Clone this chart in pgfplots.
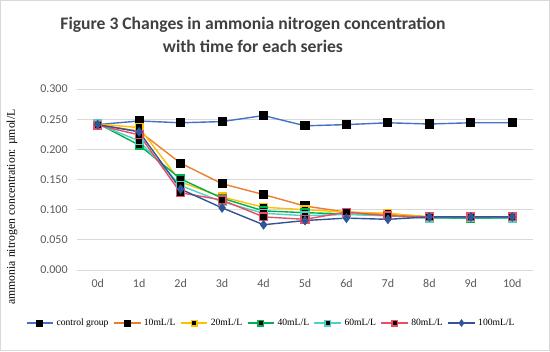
\documentclass[border=0pt]{standalone}
\usepackage{pgfplots}
\pgfplotsset{compat=1.18}
\usepackage{fontspec}
\setmainfont{Liberation Serif}
\newfontfamily\calib{Carlito}
\definecolor{cctrl}{HTML}{4472C4}
\definecolor{c10}{HTML}{ED7D31}
\definecolor{c20}{HTML}{FFC000}
\definecolor{c40}{HTML}{00B050}
\definecolor{c60}{HTML}{4FD1C5}
\definecolor{c80}{HTML}{E84F62}
\definecolor{c100}{HTML}{2F5597}
\definecolor{tickgray}{HTML}{595959}
\definecolor{titlegray}{HTML}{404040}
\definecolor{gridgray}{HTML}{D9D9D9}
\begin{document}
\begin{tikzpicture}
\draw[gridgray, line width=0.75pt] (0.375pt,0.375pt) rectangle (412.125pt,262.875pt);
\begin{axis}[
  at={(57.75pt,60.75pt)}, anchor=south west,
  scale only axis, width=342pt, height=135.75pt,
  xmin=-0.5, xmax=10.5, ymin=0, ymax=0.3,
  axis line style={draw=none},
  ymajorgrids, grid style={gridgray, line width=0.75pt},
  major tick length=0pt,
  xtick={0,1,2,3,4,5,6,7,8,9,10},
  xticklabels={0d,1d,2d,3d,4d,5d,6d,7d,8d,9d,10d},
  ytick={0,0.05,0.1,0.15,0.2,0.25,0.3},
  yticklabel style={/pgf/number format/.cd, fixed, fixed zerofill, precision=3, /tikz/.cd, font=\calib\fontsize{9}{10}\selectfont, text=tickgray, xshift=-3.5pt},
  xticklabel style={font=\calib\fontsize{9}{10}\selectfont, text=tickgray, yshift=-3pt},
  /pgf/number format/assume math mode=true,
  legend columns=7,
  legend style={at={(0.4265,-0.293)}, anchor=center, draw=none, fill=none,
    font=\fontsize{7.2}{8}\selectfont, inner sep=0pt,
    /tikz/every even column/.append style={column sep=1.5pt}},
  legend image code/.code={\draw[#1, mark=none] (0pt,0pt) -- (20pt,0pt); \draw[#1, only marks, mark size=2.1pt] plot coordinates {(10pt,0pt)};},
  every axis plot/.append style={line width=1.05pt, mark size=2.9pt, mark options={solid, line width=0.8pt}},
]
\addplot[cctrl, mark=square*, mark options={fill=black, draw=black}] coordinates {(0,0.241)(1,0.247)(2,0.244)(3,0.246)(4,0.256)(5,0.239)(6,0.241)(7,0.244)(8,0.242)(9,0.244)(10,0.244)};
\addlegendentry{control group}
\addplot[c10, mark=square*, mark options={fill=black, draw=black}] coordinates {(0,0.241)(1,0.230)(2,0.177)(3,0.143)(4,0.125)(5,0.106)(6,0.096)(7,0.093)(8,0.088)(9,0.088)(10,0.088)};
\addlegendentry{10mL/L}
\addplot[c20, mark=square*, mark options={fill=black, draw=c20}] coordinates {(0,0.242)(1,0.236)(2,0.146)(3,0.121)(4,0.104)(5,0.100)(6,0.096)(7,0.094)(8,0.088)(9,0.088)(10,0.088)};
\addlegendentry{20mL/L}
\addplot[c40, mark=square*, mark options={fill=black, draw=c40}] coordinates {(0,0.243)(1,0.207)(2,0.151)(3,0.119)(4,0.098)(5,0.095)(6,0.093)(7,0.090)(8,0.086)(9,0.086)(10,0.086)};
\addlegendentry{40mL/L}
\addplot[c60, mark=square*, mark options={fill=black, draw=c60}] coordinates {(0,0.242)(1,0.214)(2,0.140)(3,0.113)(4,0.094)(5,0.090)(6,0.092)(7,0.090)(8,0.086)(9,0.087)(10,0.086)};
\addlegendentry{60mL/L}
\addplot[c80, mark=square*, mark options={fill=black, draw=c80}] coordinates {(0,0.240)(1,0.224)(2,0.128)(3,0.116)(4,0.088)(5,0.084)(6,0.096)(7,0.090)(8,0.088)(9,0.088)(10,0.088)};
\addlegendentry{80mL/L}
\addplot[c100, mark=diamond*, mark options={fill=c100, draw=c100}] coordinates {(0,0.241)(1,0.229)(2,0.134)(3,0.103)(4,0.075)(5,0.082)(6,0.086)(7,0.084)(8,0.088)(9,0.088)(10,0.088)};
\addlegendentry{100mL/L}
\end{axis}
\node[rotate=90, font=\fontsize{8.8}{10}\selectfont, anchor=center] at (9pt,108pt) {ammonia nitrogen concentration: µmol/L};
\node[align=center, font=\calib\bfseries\fontsize{13.2}{17.5}\selectfont, text=titlegray] at (189.75pt,237pt) {Figure 3 Changes in ammonia nitrogen concentration\\with time for each series};
\end{tikzpicture}
\end{document}
